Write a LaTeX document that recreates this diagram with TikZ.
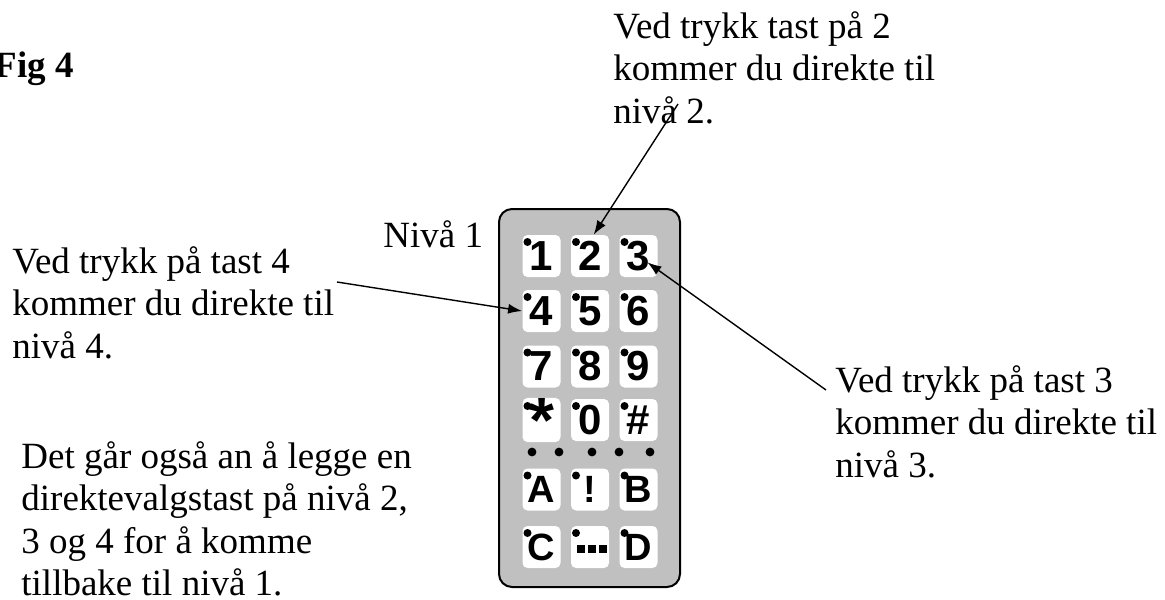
\documentclass[tikz,border=0pt]{standalone}
\usepackage{fontspec}
\setmainfont{Liberation Serif}
\newfontfamily\keyfont{Liberation Sans}
\usetikzlibrary{arrows.meta, positioning}
\definecolor{phonegray}{RGB}{192,192,192}

\tikzset{
  txt/.style={inner sep=0pt, anchor=base west, align=left, font=\fontsize{18.5}{21.25}\selectfont},
  key/.style={fill=white, inner sep=0pt, rounded corners=2.5pt, minimum width=19pt, minimum height=21pt,
    font=\keyfont\bfseries\fontsize{21}{21}\selectfont},
  lkey/.style={key, font=\keyfont\bfseries\fontsize{19}{19}\selectfont},
  arr/.style={-{Latex[length=7pt,width=5pt]}, line width=0.7pt}
}

\begin{document}
\begin{tikzpicture}[x=0.5pt, y=-0.5pt]
  \useasboundingbox (0,0) rectangle (1165,599);
  % phone body
  \draw[line width=1pt, fill=phonegray, rounded corners=6.5pt] (499,209) rectangle (680,587);
  % keys
  \foreach \n/\t/\x/\y in {1/1/541.5/256, 2/2/590/256, 3/3/638.5/256,
                            4/4/541.5/311, 5/5/590/311, 6/6/638.5/311,
                            7/7/541.5/366.5, 8/8/590/366.5, 9/9/638.5/366.5,
                            0/0/590/420, hash/\#/638.5/420}
    \node[key] (k\n) at (\x,\y) {\t};
  \node[key, font=\keyfont\bfseries\fontsize{32}{32}\selectfont] (kstar) at (541.5,420) {\raisebox{-2.5pt}{*}};
  \foreach \n/\t/\x/\y in {A/A/541.5/489.5, excl/!/590/489.5, B/B/638.5/489.5,
                            C/C/541.5/547, dots/{}/590/547, D/D/638.5/547}
    \node[lkey] (k\n) at (\x,\y) {\t};
  \foreach \n in {1,2,3,4,5,6,7,8,9,star,0,hash,A,excl,B,C,dots,D}
    \fill ([shift={(-14,-14)}]k\n.center) circle (2pt);
  \foreach \x in {581,592,603}
    \fill (\x-4,545) rectangle ++(8,8);
  \foreach \x in {532,559,592,619,650}
    \fill (\x,452) circle (2.2pt);
  % texts
  \node[txt, font=\bfseries\fontsize{18.5}{21.25}\selectfont] (fig) at (-6,78) {Fig 4};
  \node[txt] (niva1) at (383,247) {Nivå 1};
  \node[txt] (txt2) at (613,123) {Ved trykk tast på 2\\kommer du direkte til\\nivå 2.};
  \node[txt] (txt4) at (12,358) {Ved trykk på tast 4\\kommer du direkte til\\nivå 4.};
  \node[txt] (txt3) at (835,477) {Ved trykk på tast 3\\kommer du direkte til\\nivå 3.};
  \node[txt] (txtback) at (21,595.5) {Det går også an å legge en\\direktevalgstast på nivå 2,\\3 og 4 for å komme\\tillbake til nivå 1.};
  % arrows
  \coordinate (s2) at (678,104);
  \coordinate (s4) at (337,282);
  \coordinate (s3) at (826,390);
  \draw[arr] (s2) -- (k2.80);
  \draw[arr] (s4) -- (k4.west);
  \draw[arr, shorten >=5.5pt] (s3) -- (k3.center);
\end{tikzpicture}
\end{document}
